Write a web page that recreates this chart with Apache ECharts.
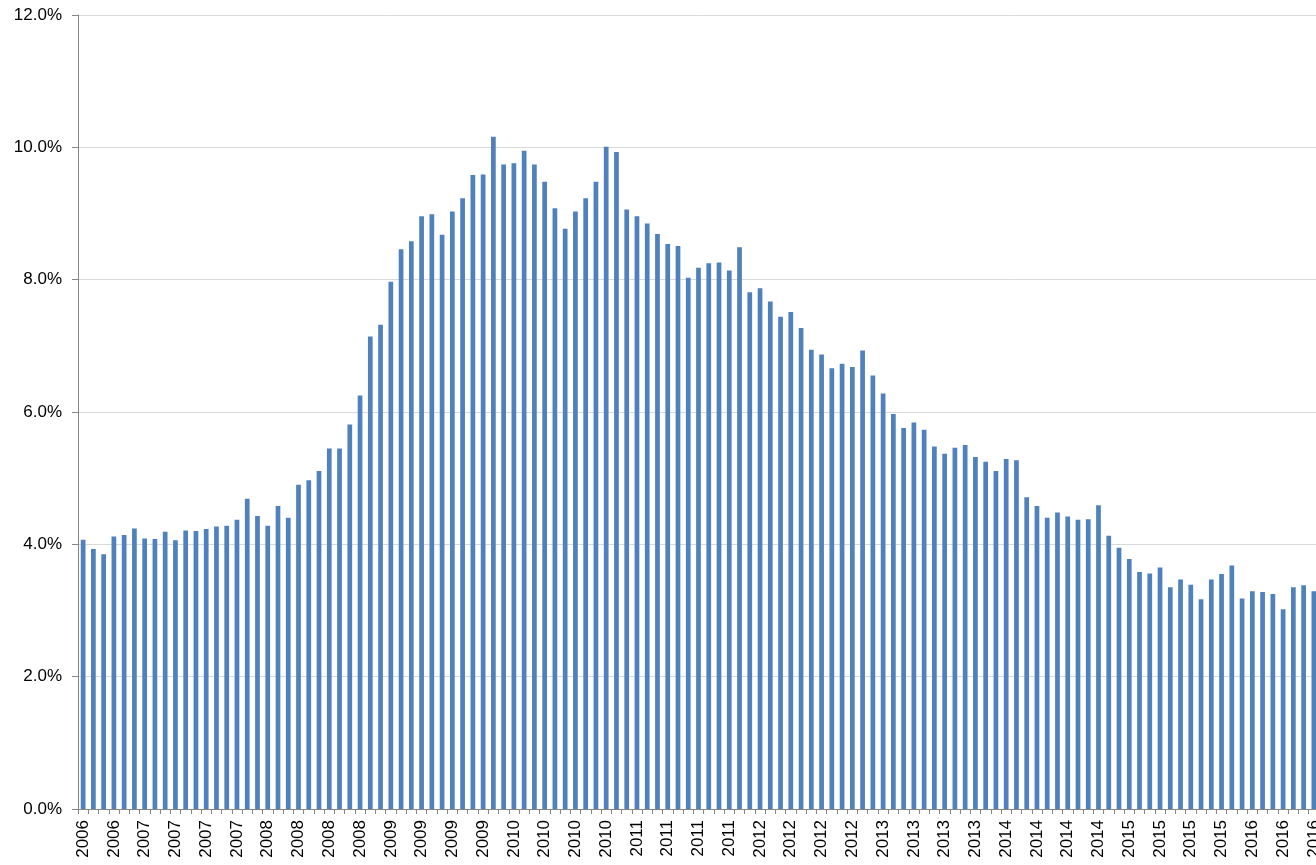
<!DOCTYPE html>
<html>
<head>
<meta charset="utf-8">
<script src="https://cdn.jsdelivr.net/npm/echarts@6/dist/echarts.min.js"></script>
<style>
  html, body { margin: 0; padding: 0; background: #fff; overflow: hidden; }
  #chart { width: 1330px; height: 865px; }
</style>
</head>
<body>
<div id="chart"></div>
<script>
// monthly rate (%), starting Jul 2006
const startYear = 2006
const startMonth = 7

const rates2006to2008 = [4.07, 3.93, 3.85, 4.12, 4.14, 4.24, 4.09, 4.08, 4.19, 4.06, 4.21, 4.20, 4.23, 4.27, 4.28,
  4.37, 4.69, 4.43, 4.28, 4.58, 4.40, 4.90, 4.97, 5.11, 5.45, 5.45, 5.81, 6.25, 7.14, 7.32]
const rates2009to2011 = [7.97, 8.46, 8.58, 8.96, 8.99, 8.68, 9.03, 9.23, 9.58, 9.59, 10.16, 9.74, 9.76, 9.95, 9.74,
  9.48, 9.08, 8.77, 9.03, 9.23, 9.48, 10.01, 9.93, 9.06, 8.96, 8.85, 8.69, 8.54, 8.51, 8.03, 8.18]
const rates2011to2013 = [8.25, 8.26, 8.14, 8.49, 7.81, 7.87, 7.67, 7.44, 7.51, 7.27, 6.94, 6.87, 6.66, 6.73, 6.68,
  6.93, 6.55, 6.28, 5.97, 5.76, 5.84, 5.73, 5.48, 5.37, 5.46, 5.50, 5.32, 5.25, 5.11, 5.29]
const rates2014to2016 = [5.27, 4.71, 4.58, 4.40, 4.48, 4.42, 4.37, 4.38, 4.59, 4.13, 3.95, 3.78, 3.58, 3.56, 3.65,
  3.35, 3.47, 3.39, 3.17, 3.47, 3.55, 3.68, 3.18, 3.29, 3.28, 3.25, 3.02, 3.35, 3.38, 3.29]

const yTicks = { min: 0, max: 12, interval: 2 }

const rates = [...rates2006to2008, ...rates2009to2011, ...rates2011to2013, ...rates2014to2016]

// category per month, label shows the year
const months = rates.map((_, i) => {
  const m = startMonth - 1 + i
  const y = startYear + Math.floor(m / 12)
  return y + '-' + String((m % 12) + 1).padStart(2, '0')
})

const chart = echarts.init(document.getElementById('chart'))

chart.setOption({
  animation: false,
  grid: { left: 78, right: 11, top: 15, bottom: 56 },
  xAxis: {
    type: 'category',
    data: months,
    axisLine: { lineStyle: { color: '#868686', width: 1 } },
    axisTick: { show: true, interval: 0, length: 5, lineStyle: { color: '#868686' } },
    axisLabel: {
      interval: 2,
      rotate: 90,
      margin: 11,
      color: '#000',
      fontSize: 17,
      fontFamily: 'Liberation Sans, Arial, sans-serif',
      formatter: (v) => v.slice(0, 4),
    },
    splitLine: { show: false },
  },
  yAxis: {
    type: 'value',
    min: yTicks.min,
    max: yTicks.max,
    interval: yTicks.interval,
    axisLine: { show: true, lineStyle: { color: '#868686', width: 1 } },
    axisTick: { show: true, length: 6, lineStyle: { color: '#868686' } },
    axisLabel: {
      margin: 16,
      color: '#000',
      fontSize: 17,
      fontFamily: 'Liberation Sans, Arial, sans-serif',
      formatter: (v) => v.toFixed(1) + '%',
    },
    splitLine: { lineStyle: { color: '#d9d9d9', width: 1 } },
  },
  series: [
    {
      type: 'bar',
      data: rates,
      barWidth: '46%',
      itemStyle: { color: '#4f81bd' },
    },
  ],
})
</script>
</body>
</html>
